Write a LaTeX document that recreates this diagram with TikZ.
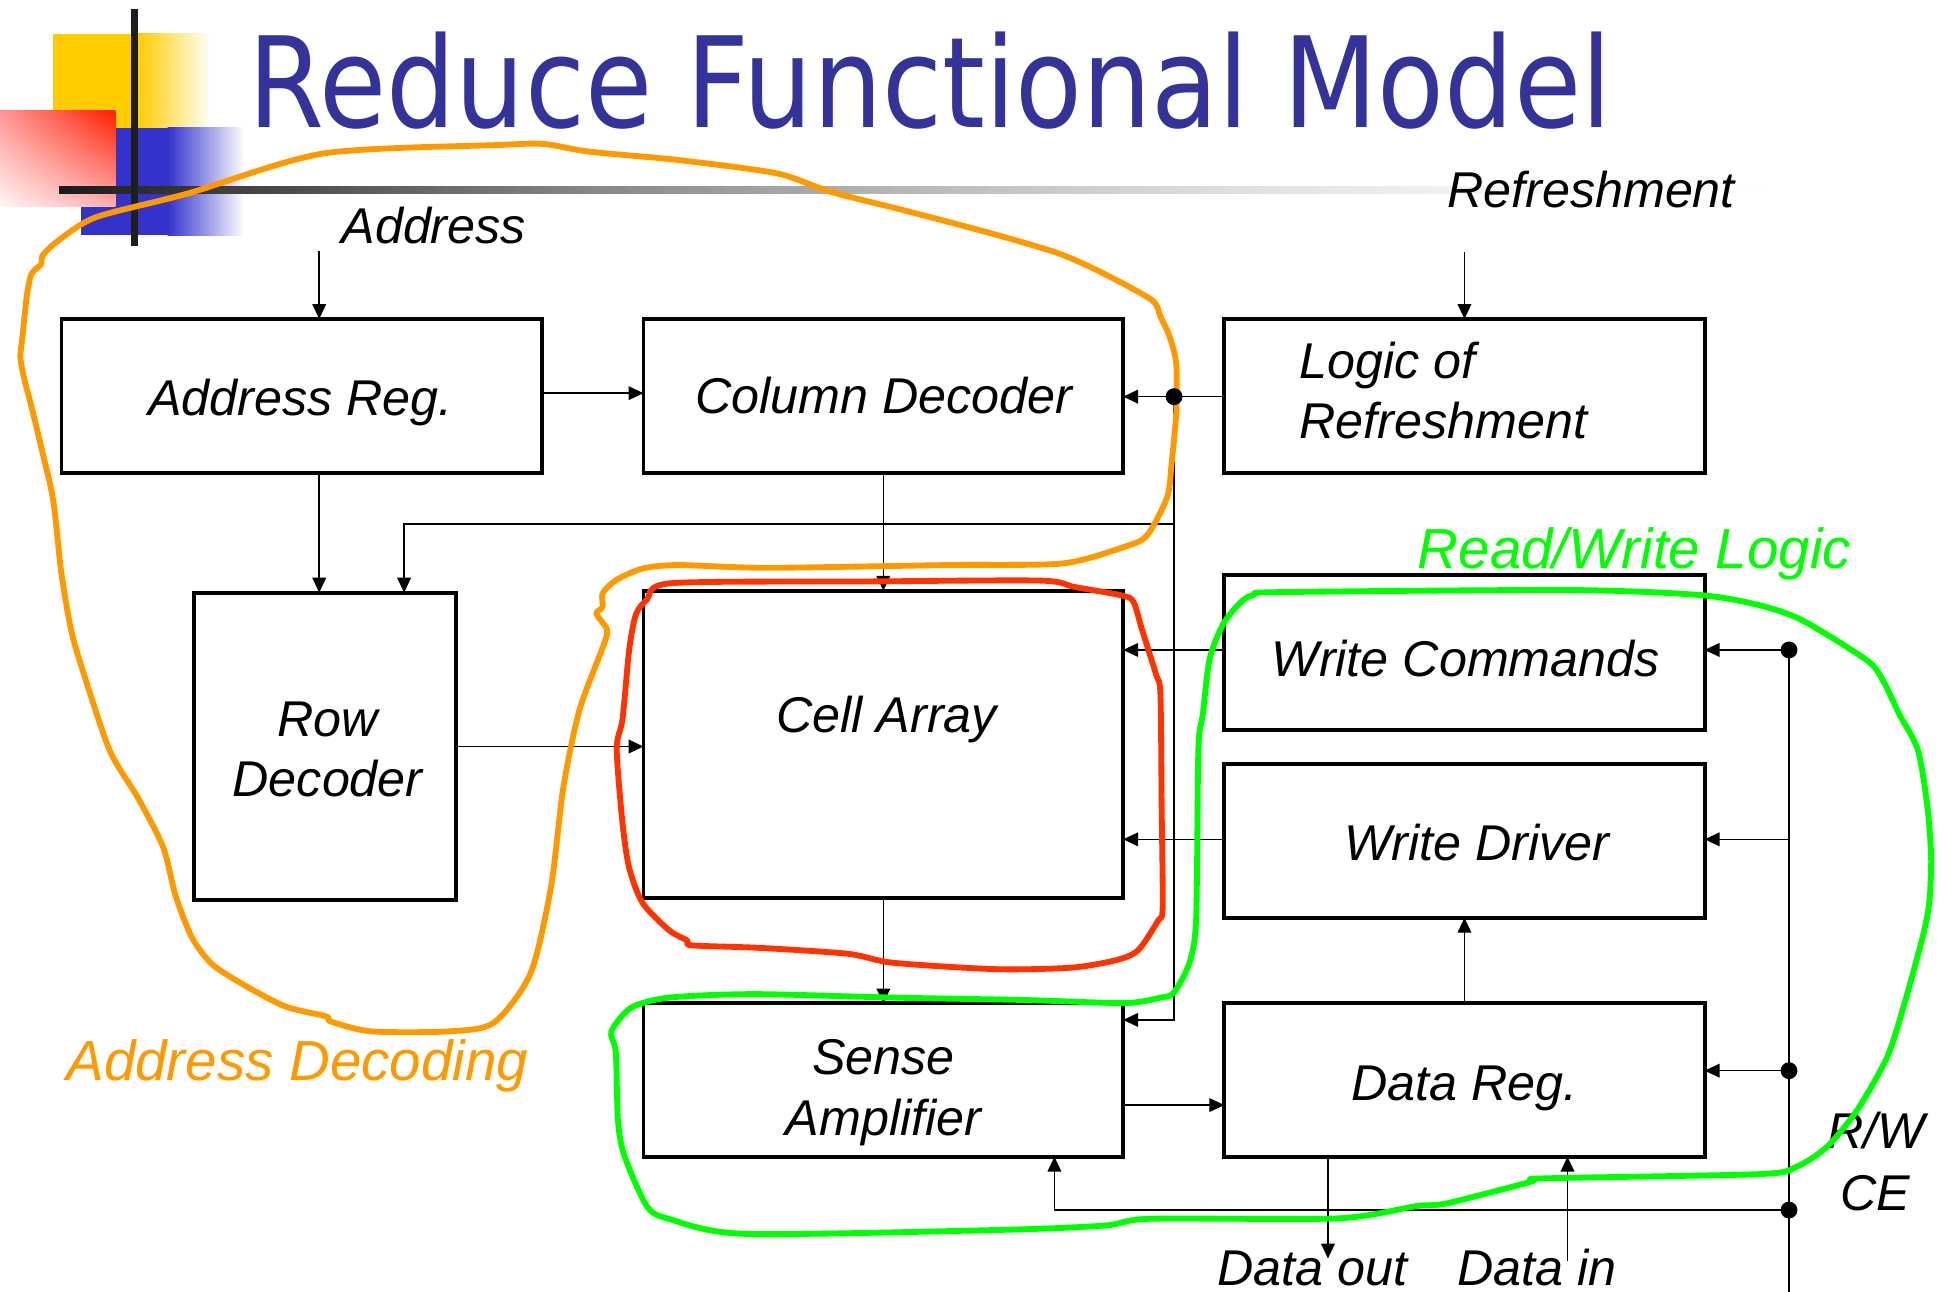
\documentclass[tikz,border=0pt]{standalone}
\usepackage{fontspec}
\setmainfont{Liberation Sans}
\newfontfamily\titlefont{DejaVu Sans}
\usetikzlibrary{arrows.meta,shadings}
\definecolor{titleblue}{RGB}{51,51,153}
\definecolor{decoyellow}{RGB}{255,204,0}
\definecolor{decoblue}{RGB}{51,51,204}
\definecolor{decored}{RGB}{255,30,0}
\definecolor{pinkA}{RGB}{255,150,150}
\definecolor{pinkB}{RGB}{255,175,175}
\definecolor{pinkC}{RGB}{255,245,245}
\definecolor{barblack}{RGB}{30,30,30}
\definecolor{hlorange}{RGB}{255,153,0}
\definecolor{hlred}{RGB}{255,51,0}
\definecolor{hlgreen}{RGB}{0,255,0}
\tikzset{
  blk/.style={draw, line width=3.1pt, inner sep=0pt, outer sep=0pt, anchor=north west},
  lbl/.style={font=\itshape\fontsize{40.5}{48.5}\selectfont, anchor=base, inner sep=0pt},
  biglbl/.style={font=\itshape\fontsize{45.5}{54}\selectfont, anchor=base, inner sep=0pt},
  arr/.style={line width=1.25pt, -{Triangle[length=12pt,width=11pt]}},
  wire/.style={line width=1.25pt},
  hl/.style={line width=4.7pt, line join=round, line cap=round},
}
\begin{document}
\begin{tikzpicture}[x=1pt, y=-1pt]
\useasboundingbox (0,0) rectangle (1568,1041);
\fill[white] (0,0) rectangle (1568,1041);

% ---- title decoration ----
\fill[decoyellow] (43,27) rectangle (111.5,103);
\shade[left color=decoyellow, right color=white] (111,27) rectangle (170,103);
\fill[decoblue] (65,103) rectangle (135.5,189.5);
\shade[left color=decoblue, right color=white] (135,103) rectangle (197,189.5);
\shade[upper left=pinkA, upper right=decored, lower left=pinkC, lower right=pinkB] (0,89) rectangle (93,166.5);
% fading rule under the title
\foreach \i in {0,...,199}{
  \pgfmathsetmacro\k{89.8*(1-(\i+0.5)/200)^1.75}
  \fill[black!\k] ({47.5+\i*7.06},150) rectangle ({47.5+(\i+1)*7.06+0.6},156);
}
\fill[barblack] (105.5,7.5) rectangle (111,198);
\node[anchor=base west, inner sep=0pt, text=titleblue] (title) at (199.7,103)
  {\resizebox{1098pt}{77pt}{\titlefont Reduce Functional Model}};

% ---- blocks ----
\node[blk, minimum width=387pt, minimum height=124pt] (areg) at (49.5,257) {};
\node[blk, minimum width=386.5pt, minimum height=124pt] (cdec) at (518.5,257) {};
\node[blk, minimum width=387pt, minimum height=124pt] (logic) at (986.5,257) {};
\node[blk, minimum width=211.5pt, minimum height=248pt] (rdec) at (156,477.5) {};
\node[blk, minimum width=386.5pt, minimum height=247.5pt] (cell) at (518.5,476) {};
\node[blk, minimum width=387pt, minimum height=124.5pt] (wcmd) at (986.5,463.5) {};
\node[blk, minimum width=387pt, minimum height=124pt] (wdrv) at (986.5,615.5) {};
\node[blk, minimum width=386.5pt, minimum height=123.5pt] (samp) at (518.5,808.5) {};
\node[blk, minimum width=387pt, minimum height=123.5pt] (dreg) at (986.5,808.5) {};

% ---- block texts ----
\node[lbl] (tareg) at (242,335) {Address Reg.};
\node[lbl] (tcdec) at (712,333) {Column Decoder};
\node[lbl, anchor=base west] (tlog1) at (1047,305) {Logic of};
\node[lbl, anchor=base west] (tlog2) at (1047,353) {Refreshment};
\node[lbl] (trd1) at (264,593.5) {Row};
\node[lbl] (trd2) at (264,642) {Decoder};
\node[lbl] (tcell) at (714.5,590) {Cell Array};
\node[lbl] (twcmd) at (1181,544.7) {Write Commands};
\node[lbl] (twdrv) at (1190,693) {Write Driver};
\node[lbl] (tsa1) at (712,866) {Sense};
\node[lbl] (tsa2) at (712,915) {Amplifier};
\node[lbl] (tdreg) at (1180,886.4) {Data Reg.};

% ---- signal labels ----
\node[lbl] (laddr) at (349.5,196) {Address};
\node[lbl] (lref) at (1282,167) {Refreshment};
\node[lbl] (ldout) at (1057.5,1035.4) {Data out};
\node[lbl] (ldin) at (1238.6,1035.4) {Data in};
\node[lbl] (lrw) at (1512,925) {R/W};
\node[lbl] (lce) at (1511,975) {CE};
\node[biglbl, text=hlorange] (ladec) at (239.5,871) {Address Decoding};
\node[biglbl, text=hlgreen] (lrwl) at (1317,458) {Read/Write Logic};

% ---- junction and end points ----
\coordinate (addrin) at (257.2,202);
\coordinate (refin) at (1180,203);
\coordinate (ax) at (257.2,0);
\coordinate (ac) at (436.5,316.8);
\coordinate (jr) at (946,319.6);
\coordinate (jrow) at (946,422);
\coordinate (rowc) at (325.6,422);
\coordinate (sr) at (946,821.8);
\coordinate (sd) at (905,890.4);
\coordinate (b1) at (1441.5,523.7);
\coordinate (b2) at (1441.5,676.3);
\coordinate (b3) at (1441.5,862.7);
\coordinate (b4) at (1441.5,975);
\coordinate (bend) at (1441.5,1045);
\coordinate (sb) at (849.6,975);
\coordinate (dout) at (1070,1014);
\coordinate (din) at (1263,1016);

% ---- connectors ----
\draw[arr] (addrin) -- (areg.north -| addrin);
\draw[arr] (refin) -- (logic.north -| refin);
\draw[arr] (ac) -- (cdec.west |- ac);
\draw[arr] (areg.south -| ax) -- (rdec.north -| ax);
\draw[arr] (cdec.south) -- (cell.north);
\draw[wire] (logic.west |- jr) -- (jr);
\draw[arr] (jr) -- (cdec.east |- jr);
\draw[arr] (jr) -- (sr) -- (samp.east |- sr);
\draw[arr] (jrow) -- (rowc) -- (rdec.north -| rowc);
\draw[arr] (rdec.east) -- (rdec.east -| cell.west);
\draw[arr] (wcmd.west |- b1) -- (cell.east |- b1);
\draw[arr] (wdrv.west |- b2) -- (cell.east |- b2);
\draw[arr] (cell.south) -- (samp.north);
\draw[arr] (dreg.north) -- (wdrv.south);
\draw[arr] (sd) -- (dreg.west |- sd);
\draw[wire] (b1) -- (bend);
\draw[arr] (b1) -- (wcmd.east |- b1);
\draw[arr] (b2) -- (wdrv.east |- b2);
\draw[arr] (b3) -- (dreg.east |- b3);
\draw[arr] (b4) -- (sb) -- (samp.south -| sb);
\draw[arr] (dreg.south -| dout) -- (dout);
\draw[arr] (din) -- (dreg.south -| din);

% ---- hand-drawn groupings ----
\draw[hl, hlorange] plot[smooth cycle, tension=0.45] coordinates {
 (18,272) (21.4,240) (25.2,221) (33,213) (34.2,206) (46.8,194) (77.3,175)
 (151,156) (260.8,123.6) (402.9,116.8) (438,116) (475,122.2) (547,129)
 (626,139.7) (669,154.5) (726.6,169) (798.5,188) (852.5,204) (888.5,220)
 (928,241.7) (935,255) (942.4,271.3) (947.7,292.8) (947.7,333) (944,373.5)
 (940.5,400.4) (924.3,431.3) (906.3,440.5) (856,454) (762.6,455.3)
 (618.7,457.5) (546.8,455.3) (518,458) (496.4,467.4) (485.6,478)
 (485.6,489) (480.5,494.5) (489,507) (486.8,518.6) (467,571.7)
 (453.9,634.5) (444,714.3) (427.6,784) (398,824) (361.8,831) (299,831)
 (266.4,823) (263,819) (230,811) (197.3,794) (171,777) (154.6,755.3)
 (141.4,721.5) (131.6,683) (111.8,644) (88.8,605.6) (69,547.6) (57.6,509)
 (49.3,460.6) (42.8,402.7) (32.9,359) (24.7,325) (19.7,306) (16.4,288)};
\draw[hl, hlred] plot[smooth cycle, tension=0.45] coordinates {
 (541.1,469.9) (700,468.5) (837.9,467.8) (866,473) (904.4,479.9)
 (913.4,485.1) (920.3,507.8) (931.4,543.2) (935,559.2) (936,650)
 (936.8,731.6) (933.2,741.7) (917,765.7) (899,773.7) (863.1,779.7)
 (801.9,780.9) (719.2,775.7) (683.2,768.5) (611.3,763.7) (557.3,761.7)
 (553.7,757.7) (539.3,749.7) (517.8,727.6) (507,699.5) (501.6,663.5)
 (496.9,603.3) (501.6,579.3) (507,523.2) (512.4,495.1) (521.4,483.1)};
\draw[hl, hlgreen] plot[smooth cycle, tension=0.45] coordinates {
 (999.8,485.1) (1010.5,479.1) (1031.4,477.1) (1264.8,475.4) (1369.1,479.4)
 (1417,487.5) (1451.8,499.6) (1504,531.8) (1517,547.9) (1530,574.8)
 (1545.3,604.3) (1553,650) (1556,690) (1554.7,725.2) (1549.9,752)
 (1535.3,805.8) (1520.7,851.4) (1496.4,894.4) (1472.1,924) (1447.7,940)
 (1418.5,946) (1243.5,949.5) (1233.7,952.2) (1165.7,969.6) (1141.3,971.8)
 (1078.1,981.7) (927,982) (890,987.5) (805.8,991) (600.5,994.2)
 (539.3,982.2) (521.4,972.2) (503.4,932.1) (498,904) (496.2,847.9)
 (492.6,831) (508.8,811.8) (539.3,803.8) (607.7,801) (719.2,803.8)
 (827,805.8) (906.2,808.2) (935,803.8) (945.8,799.8) (958.4,775.7)
 (963.8,739.7) (965.6,603.3) (969.2,575.3) (974.6,531.2) (985.4,503.1)};

% ---- junction dots ----
\fill (jr) circle (6.8pt);
\fill (b1) circle (6.8pt);
\fill (b3) circle (6.8pt);
\fill (b4) circle (6.8pt);
\end{tikzpicture}
\end{document}
